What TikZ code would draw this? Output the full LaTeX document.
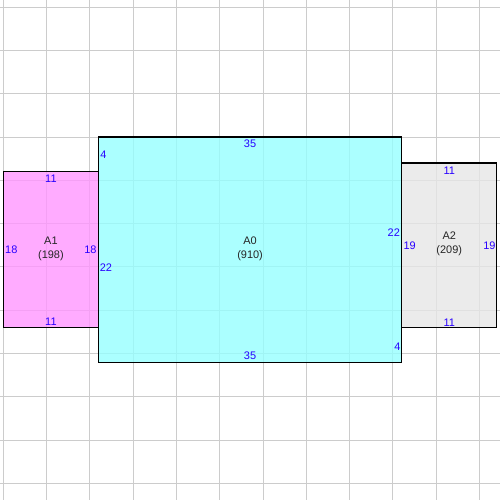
\documentclass[tikz,border=0pt]{standalone}
\usepackage{fontspec}
\setmainfont{Liberation Sans}
\definecolor{gridgray}{RGB}{204,204,204}
\definecolor{roompink}{RGB}{255,150,255}
\definecolor{roomcyan}{RGB}{150,255,255}
\definecolor{roomgray}{RGB}{230,230,230}
\definecolor{dimblue}{RGB}{40,0,255}
\tikzset{
  room/.style = {draw = black, line width = 0.9pt, fill opacity = 0.8},
  dimlbl/.style = {text = dimblue, inner sep = 0pt, font = \fontsize{9}{10.5}\selectfont},
  roomlbl/.style = {text = black!85, inner sep = 0pt, align = center, font = \fontsize{9}{11}\selectfont}
}
\begin{document}
\begin{tikzpicture}[x = 0.25cm, y = -0.25cm]
\useasboundingbox [fill = white] (-0.38,-15.82) rectangle (57.36,41.92);
% grid
\foreach \gx in {0,5,...,55}
  \draw [gridgray, line width = 0.8pt] (\gx,-15.82) -- (\gx,41.92);
\foreach \gy in {-15,-10,...,40}
  \draw [gridgray, line width = 0.8pt] (-0.38,\gy) -- (57.36,\gy);
% rooms
\draw [room, fill = roompink] (0,4) rectangle (11,22);
\draw [room, fill = roomcyan] (11,0) rectangle (46,26);
\draw [room, fill = roomgray] (46,3) rectangle (57,22);
% A1
\node [roomlbl] (nA1) at (5.5,12.9) {A1\\(198)};
\node [dimlbl] (a1top) at (5.5,4.85) {11};
\node [dimlbl] (a1bot) at (5.5,21.35) {11};
\node [dimlbl] (a1left) at (0.92,13.05) {18};
\node [dimlbl] (a1right) at (10.07,13.05) {18};
% A0
\node [roomlbl] (nA0) at (28.5,12.9) {A0\\(910)};
\node [dimlbl] (a0top) at (28.5,0.8) {35};
\node [dimlbl] (a0bot) at (28.5,25.3) {35};
\node [dimlbl] (a0lefttop) at (11.57,2.08) {4};
\node [dimlbl] (a0leftbot) at (11.86,15.1) {22};
\node [dimlbl] (a0righttop) at (45.1,11.1) {22};
\node [dimlbl] (a0rightbot) at (45.5,24.2) {4};
% A2
\node [roomlbl] (nA2) at (51.5,12.35) {A2\\(209)};
\node [dimlbl] (a2top) at (51.5,3.85) {11};
\node [dimlbl] (a2bot) at (51.5,21.4) {11};
\node [dimlbl] (a2left) at (46.93,12.56) {19};
\node [dimlbl] (a2right) at (56.14,12.56) {19};
\end{tikzpicture}
\end{document}
